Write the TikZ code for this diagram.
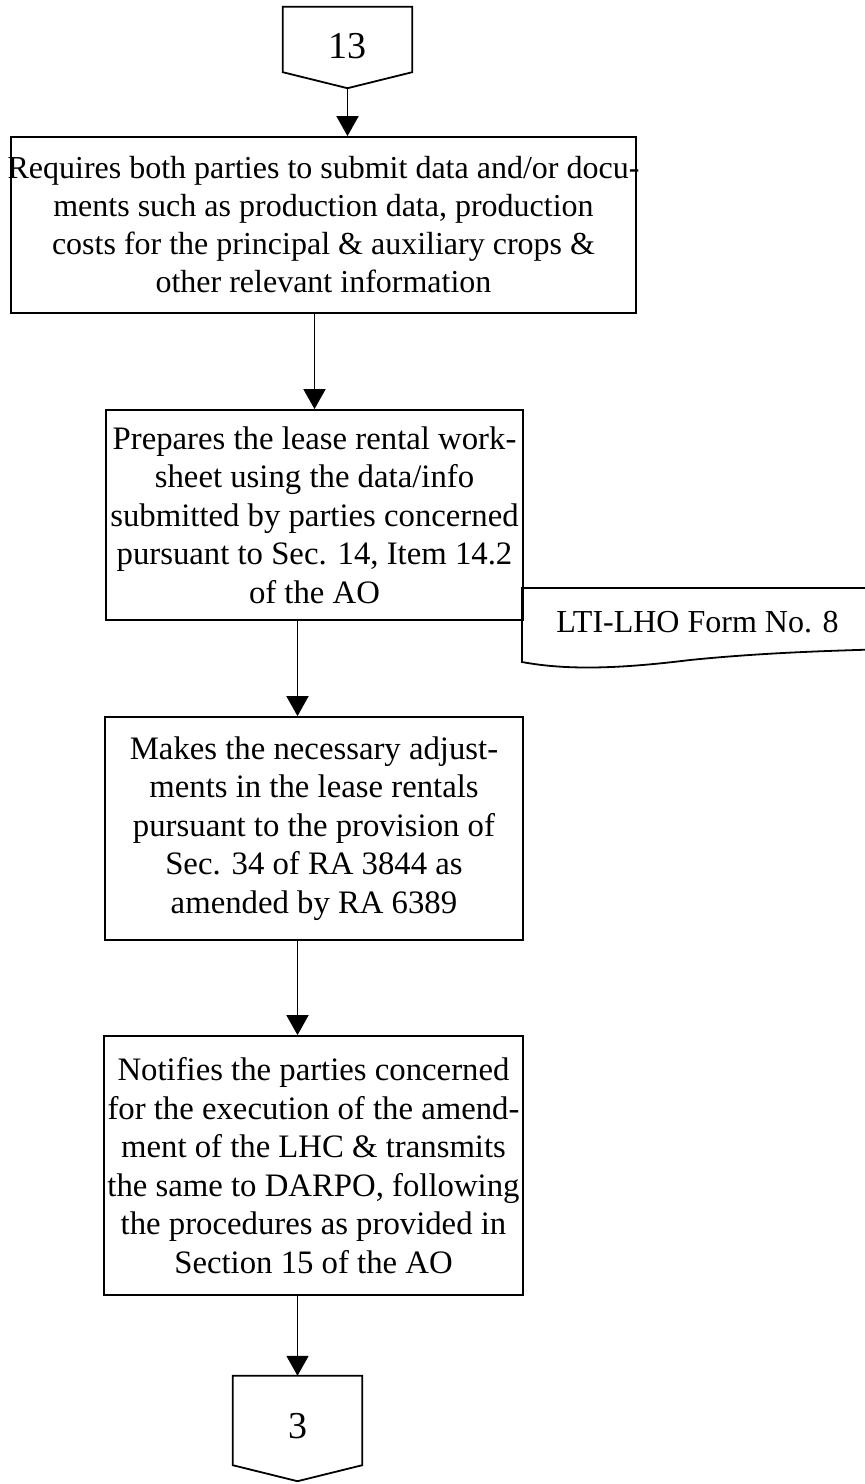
\documentclass[tikz,border=0pt]{standalone}
\usepackage{fontspec}
\setmainfont{Liberation Serif}
\usetikzlibrary{arrows.meta}

\tikzset{
  stepbox/.style={draw, line width=1.8pt, inner sep=0pt, align=center,
    font=\fontsize{32.75}{38.5}\selectfont},
  pageref/.style={inner sep=0pt, minimum width=129pt,
    font=\fontsize{38}{40}\selectfont},
  pagerefline/.style={line width=1.8pt, line join=miter},
  docline/.style={line width=1.8pt},
  flow/.style={line width=1.8pt, -{Triangle[length=20pt,width=22pt]}}
}

\begin{document}
\begin{tikzpicture}[x=1pt,y=-1pt]
  \useasboundingbox (0,0) rectangle (865,1484);
  \clip (0,0) rectangle (865,1484);

  % incoming off-page connector
  \node[pageref, minimum height=81pt] (n13) at (347.5,47.5) {\raisebox{2.5pt}{13}};
  \draw[pagerefline] (n13.north west) -- (n13.north east)
    -- ([yshift=16pt]n13.south east) -- (n13.south)
    -- ([yshift=16pt]n13.south west) -- cycle;

  % process steps (the first line of b1 runs over the box edges)
  \node[stepbox, minimum width=625pt, minimum height=176pt,
        font=\fontsize{32}{38}\selectfont] (b1) at (323.5,225)
    {\makebox[600pt][c]{Requires both parties to submit data and/or docu-}\\
     ments such as production data, production\\
     costs for the principal \& auxiliary crops \&\\
     other relevant information};

  \node[stepbox, minimum width=417pt, minimum height=210pt] (b2) at (314.5,515)
    {Prepares the lease rental work-\\
     sheet using the data/info\\
     submitted by parties concerned\\
     pursuant to Sec. 14, Item 14.2\\
     of the AO};

  \node[stepbox, minimum width=418pt, minimum height=223pt] (b3) at (314,828.5)
    {Makes the necessary adjust-\\
     ments in the lease rentals\\
     pursuant to the provision of\\
     Sec. 34 of RA 3844 as\\
     amended by RA 6389};

  \node[stepbox, minimum width=419pt, minimum height=259pt] (b4) at (313.5,1165.5)
    {Notifies the parties concerned\\
     for the execution of the amend-\\
     ment of the LHC \& transmits\\
     the same to DARPO, following\\
     the procedures as provided in\\
     Section 15 of the AO};

  % form document attached to the worksheet step
  \draw[docline] (890,588) -- (522,588) -- (522,662)
    .. controls (570,671) and (625,668) .. (690,660)
    .. controls (760,653) and (820,651) .. (890,649);
  \node[inner sep=0pt, font=\fontsize{32}{36}\selectfont] (lti) at (697.5,622.5)
    {LTI-LHO Form No. 8};

  % outgoing off-page connector
  \node[pageref, minimum height=105pt] (n3) at (297.5,1428.5) {\raisebox{5.5pt}{3}};
  \draw[pagerefline] (n3.north west) -- (n3.north east)
    -- ([yshift=16pt]n3.south east) -- (n3.south)
    -- ([yshift=16pt]n3.south west) -- cycle;

  % flow connectors
  \draw[flow] (n13.south) -- (b1.north -| n13.south);
  \draw[flow] (b1.south -| b2.north) -- (b2.north);
  \draw[flow] (b2.south -| n3.north) -- (b3.north -| n3.north);
  \draw[flow] (b3.south -| n3.north) -- (b4.north -| n3.north);
  \draw[flow] (b4.south -| n3.north) -- (n3.north);
\end{tikzpicture}
\end{document}
